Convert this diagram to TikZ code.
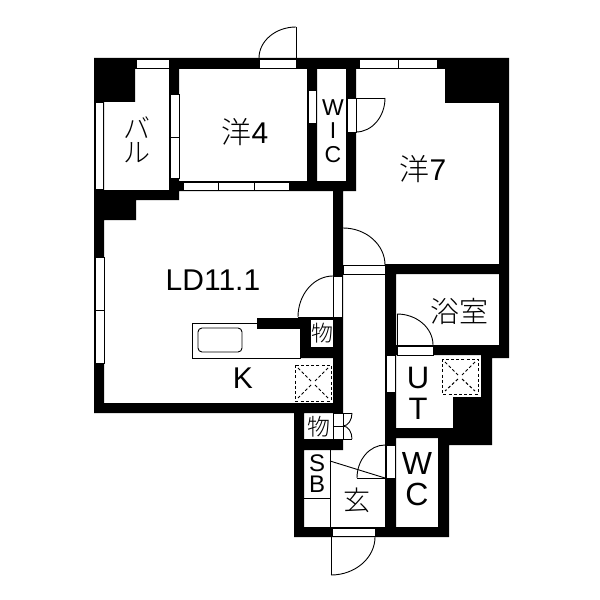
\documentclass[tikz,border=0pt]{standalone}
\usepackage{fontspec}
\setmainfont{Liberation Sans}
\newfontfamily\cjk[UprightFont=* Light]{Noto Sans CJK JP}
\usetikzlibrary{calc}
\newcommand{\wl}[4]{(#1,#2) rectangle (#3,#4)}
\newcommand{\quarter}[3]{\draw[thinline] (#1) .. controls ($(#1)!0.55!(#3)$) and ($(#2)!0.55!(#3)$) .. (#2);}
\newcommand{\fsz}[1]{\fontsize{#1bp}{#1bp}\selectfont}
\tikzset{
 thinline/.style={draw=black,line width=0.9bp},
 win/.style={fill=white,draw=black,line width=0.7bp},
 lab/.style={inner sep=0pt,text=black},
 vent/.style={draw=black,line width=1bp,dash pattern=on 3bp off 2.2bp},
}
\begin{document}
\begin{tikzpicture}[x=1bp,y=-1bp]
\useasboundingbox (0,0) rectangle (600,600);
\fill[white] (0,0) rectangle (600,600);
% walls
\fill[black]
 \wl{94}{58}{509}{69}
 \wl{94}{58}{135}{102}
 \wl{445}{58}{503}{103}
 \wl{499}{58}{509}{358}
 \wl{94}{58}{104}{413}
 \wl{94}{190}{179}{200}
 \wl{104}{200}{136}{220}
 \wl{169}{58}{179}{200}
 \wl{169}{181}{356}{191}
 \wl{307}{58}{317}{191}
 \wl{346}{58}{356}{191}
 \wl{333}{191}{343}{450}
 \wl{94}{403}{343}{413}
 \wl{257}{318}{333}{328}
 \wl{300}{318}{333}{358}
 \wl{385}{264}{509}{274}
 \wl{385}{264}{396}{537}
 \wl{396}{345}{509}{355}
 \wl{481}{345}{492}{445}
 \wl{492}{345}{509}{358}
 \wl{453}{397}{492}{445}
 \wl{385}{428}{492}{438}
 \wl{438}{428}{492}{445}
 \wl{438}{428}{449}{537}
 \wl{294}{403}{304}{537}
 \wl{294}{439}{343}{450}
 \wl{294}{527}{449}{537};
% windows and door openings
\path[win] (136,59) rectangle (169,68);
\path[win] (95,102) rectangle (103,189);
\path[win] (170,94) rectangle (179,137);
\path[win] (170,137) rectangle (179,178);
\path[win] (259,59) rectangle (296,68);
\path[win] (308,90) rectangle (316,123);
\path[win] (183,182) rectangle (218,190);
\path[win] (218,182) rectangle (254,190);
\path[win] (254,182) rectangle (289,190);
\path[win] (347,98) rectangle (356,132);
\path[win] (359,59) rectangle (398,68);
\path[win] (398,59) rectangle (437,68);
\path[win] (95,257) rectangle (104,310);
\path[win] (95,310) rectangle (104,363);
\path[win] (333,276) rectangle (342,317);
\path[win] (343,265) rectangle (385,274);
\path[win] (397,346) rectangle (433,355);
\path[win] (386,355) rectangle (395,392);
\path[win] (386,445) rectangle (395,478);
\path[win] (332,528) rectangle (375,536);
\path[win] (333,413) rectangle (343,426);
\path[win] (333,426) rectangle (343,439);
% doors
\coordinate (da) at (259,58); \coordinate (db) at (296,27); \coordinate (dc) at (259,27);
\quarter{da}{db}{dc} \draw[thinline] (db) -- (296,58);
\coordinate (ea) at (385,98); \coordinate (eb) at (356,132); \coordinate (ec) at (385,132);
\quarter{ea}{eb}{ec} \draw[thinline] (ea) -- (356,98);
\coordinate (fa) at (343,228); \coordinate (fb) at (385,265); \coordinate (fc) at (385,228);
\quarter{fa}{fb}{fc}
\coordinate (ga) at (333,276); \coordinate (gb) at (298,317); \coordinate (gc) at (298,276);
\quarter{ga}{gb}{gc} \draw[thinline] (gb) -- (333,317);
\coordinate (ha) at (397,314); \coordinate (hb) at (433,345); \coordinate (hc) at (433,314);
\quarter{ha}{hb}{hc} \draw[thinline] (ha) -- (397,346);
\coordinate (ia) at (385,445); \coordinate (ib) at (357,478); \coordinate (ic) at (357,445);
\quarter{ia}{ib}{ic} \draw[thinline] (ib) -- (385,478);
\coordinate (ja) at (331,575); \coordinate (jb) at (375,537); \coordinate (jc) at (375,575);
\quarter{ja}{jb}{jc} \draw[thinline] (ja) -- (331,537);
% bifold doors
\coordinate (ka) at (352,413); \coordinate (kb) at (343,426); \coordinate (kc) at (352,426);
\quarter{ka}{kb}{kc} \draw[thinline] (343,413) -- (ka);
\coordinate (la) at (352,439); \coordinate (lb) at (343,426); \coordinate (lc) at (352,426);
\quarter{la}{lb}{lc} \draw[thinline] (343,439) -- (la);
% step and shoe cupboard
\draw[thinline] (330,461) -- (385,478);
\draw[thinline] (330,450) -- (330,527);
\draw[thinline] (304,498) -- (330,498);
% storage white
\fill[white] (311,320) rectangle (333,347);
% kitchen counter
\path[win,line width=0.9bp] (192,323) -- (257,323) -- (257,328) -- (300,328) -- (300,358) -- (192,358) -- cycle;
\draw[thinline,rounded corners=4bp] (198,328) rectangle (242,352);
% vents
\draw[vent] (295,365) rectangle (331,401);
\draw[vent] (298,368) -- (311,381) (315,385) -- (328,398) (328,368) -- (315,381) (311,385) -- (298,398);
\draw[vent] (442,359) rectangle (478,394);
\draw[vent] (445,362) -- (458,375) (462,379) -- (475,391) (475,362) -- (462,375) (458,379) -- (445,391);
% labels
\node[lab,align=center,font=\cjk\fontsize{27bp}{24bp}\selectfont] (bal) at (137,140) {バ\\ル};
\node[lab,font=\fsz{30}] (y4) at (245,132) {{\cjk 洋}4};
\node[lab,font=\fsz{30}] (y7) at (423,169) {{\cjk 洋}7};
\node[lab,font=\fsz{23}] (w1) at (333,108) {W};
\node[lab,font=\fsz{23}] (w2) at (333,131) {I};
\node[lab,font=\fsz{23}] (w3) at (333,155) {C};
\node[lab,font=\fsz{30}] (ld) at (213,280) {LD11.1};
\node[lab,font=\fsz{30}] (k) at (243,378) {K};
\node[lab,font=\cjk\fsz{22}] (m1) at (322,333) {物};
\node[lab,font=\cjk\fsz{29}] (bath) at (459,311) {浴室};
\node[lab,font=\fsz{31}] (u) at (418,378) {U};
\node[lab,font=\fsz{31}] (t) at (418,409) {T};
\node[lab,font=\fsz{32}] (wc1) at (417,463) {W};
\node[lab,font=\fsz{32}] (wc2) at (417,494) {C};
\node[lab,align=center,font=\fontsize{24bp}{21bp}\selectfont] (sb) at (317,473.5) {S\\B};
\node[lab,font=\cjk\fsz{27}] (gen) at (357,500) {玄};
\node[lab,font=\cjk\fsz{23}] (m2) at (319,427) {物};
\end{tikzpicture}
\end{document}
